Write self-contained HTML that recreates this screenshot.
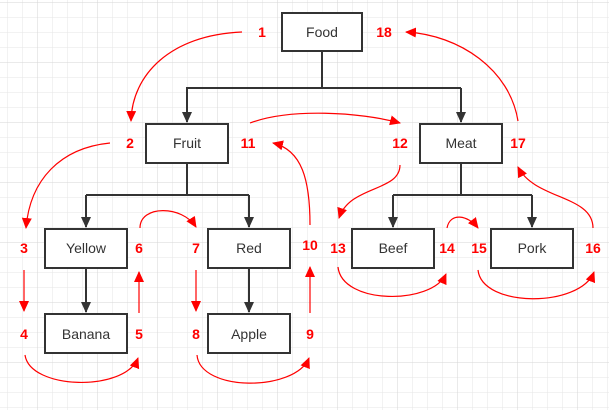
<!DOCTYPE html>
<html><head><meta charset="utf-8"><style>
html,body{margin:0;padding:0;background:#fff;}
svg{display:block;}
.b{fill:#fff;stroke:#333;stroke-width:2;}
.t{font-family:"Liberation Sans",sans-serif;font-size:14px;fill:#333;text-anchor:middle;}
.n{font-family:"Liberation Sans",sans-serif;font-size:14px;font-weight:bold;fill:#f00;text-anchor:middle;}
.c{fill:none;stroke:#f00;stroke-width:1.2;}
.l{fill:none;stroke:#333;stroke-width:2;}
</style></head><body>
<svg width="609" height="410" xmlns="http://www.w3.org/2000/svg">
<defs>
<pattern id="g" x="7" y="2" width="15" height="15" patternUnits="userSpaceOnUse"><path d="M0,0H15M0,0V15" stroke="#e6e6e6" stroke-width="1" fill="none"/></pattern>
<pattern id="G" x="37" y="2" width="60" height="60" patternUnits="userSpaceOnUse"><path d="M0,0H60M0,0V60" stroke="#d6d6d6" stroke-width="1" fill="none"/></pattern>
<marker id="ra" markerWidth="12" markerHeight="12" refX="10" refY="5" orient="auto" markerUnits="userSpaceOnUse"><path d="M0,0L11,5L0,10z" fill="#f00"/></marker>
<marker id="ka" markerWidth="12" markerHeight="12" refX="10" refY="5" orient="auto" markerUnits="userSpaceOnUse"><path d="M0,0L11,5L0,10z" fill="#333"/></marker>
</defs>
<rect width="609" height="410" fill="url(#g)"/>
<rect width="609" height="410" fill="url(#G)"/>

<path class="l" d="M322,51V88M186,88H461" />
<path class="l" d="M187,88V122" marker-end="url(#ka)"/>
<path class="l" d="M461,88V122" marker-end="url(#ka)"/>
<path class="l" d="M187,163V195M86,195H249"/>
<path class="l" d="M86,195V227" marker-end="url(#ka)"/>
<path class="l" d="M249,195V227" marker-end="url(#ka)"/>
<path class="l" d="M86,268V312" marker-end="url(#ka)"/>
<path class="l" d="M249,268V312" marker-end="url(#ka)"/>
<path class="l" d="M461,163V195M393,195H532"/>
<path class="l" d="M393,195V227" marker-end="url(#ka)"/>
<path class="l" d="M532,195V227" marker-end="url(#ka)"/>

<rect class="b" x="282" y="13" width="80" height="38"/><text class="t" x="322" y="37">Food</text>
<rect class="b" x="146" y="124" width="82" height="39"/><text class="t" x="187" y="148">Fruit</text>
<rect class="b" x="420" y="124" width="82" height="39"/><text class="t" x="461" y="148">Meat</text>
<rect class="b" x="45" y="229" width="82" height="39"/><text class="t" x="86" y="253">Yellow</text>
<rect class="b" x="45" y="314" width="82" height="39"/><text class="t" x="86" y="339">Banana</text>
<rect class="b" x="208" y="229" width="82" height="39"/><text class="t" x="249" y="253">Red</text>
<rect class="b" x="208" y="314" width="82" height="39"/><text class="t" x="249" y="339">Apple</text>
<rect class="b" x="352" y="229" width="82" height="39"/><text class="t" x="393" y="253">Beef</text>
<rect class="b" x="491" y="229" width="82" height="39"/><text class="t" x="532" y="253">Pork</text>

<g class="c">
<path d="M242,32 C170,35 132,75 131,121" marker-end="url(#ra)"/>
<path d="M518,121 C510,70 460,35 406,32" marker-end="url(#ra)"/>
<path d="M110,143 C60,148 30,180 26,228" marker-end="url(#ra)"/>
<path d="M24,270 V311" marker-end="url(#ra)"/>
<path d="M25,355 C30,390 125,392 138,358" marker-end="url(#ra)"/>
<path d="M139,313 V272" marker-end="url(#ra)"/>
<path d="M140,228 C140,205 182,205 196,227" marker-end="url(#ra)"/>
<path d="M196,270 V311" marker-end="url(#ra)"/>
<path d="M197,355 C200,392 295,392 309,358" marker-end="url(#ra)"/>
<path d="M310,313 V267" marker-end="url(#ra)"/>
<path d="M310,225 C310,180 302,150 273,143" marker-end="url(#ra)"/>
<path d="M250,123 C290,108 360,112 400,123" marker-end="url(#ra)"/>
<path d="M400,165 C400,192 350,185 339,218" marker-end="url(#ra)"/>
<path d="M338,267 C342,305 432,305 446,274" marker-end="url(#ra)"/>
<path d="M447,228 C450,212 468,215 478,228" marker-end="url(#ra)"/>
<path d="M478,270 C482,308 580,308 594,272" marker-end="url(#ra)"/>
<path d="M593,228 C593,195 535,200 518,167" marker-end="url(#ra)"/>
</g>

<g class="n">
<text x="262" y="37">1</text>
<text x="384" y="37">18</text>
<text x="130" y="148">2</text>
<text x="248" y="148">11</text>
<text x="400" y="148">12</text>
<text x="518" y="148">17</text>
<text x="24" y="253">3</text>
<text x="139" y="253">6</text>
<text x="196" y="253">7</text>
<text x="310" y="250">10</text>
<text x="338" y="253">13</text>
<text x="447" y="253">14</text>
<text x="479" y="253">15</text>
<text x="593" y="253">16</text>
<text x="24" y="339">4</text>
<text x="139" y="339">5</text>
<text x="196" y="339">8</text>
<text x="310" y="339">9</text>
</g>
</svg>
</body></html>
